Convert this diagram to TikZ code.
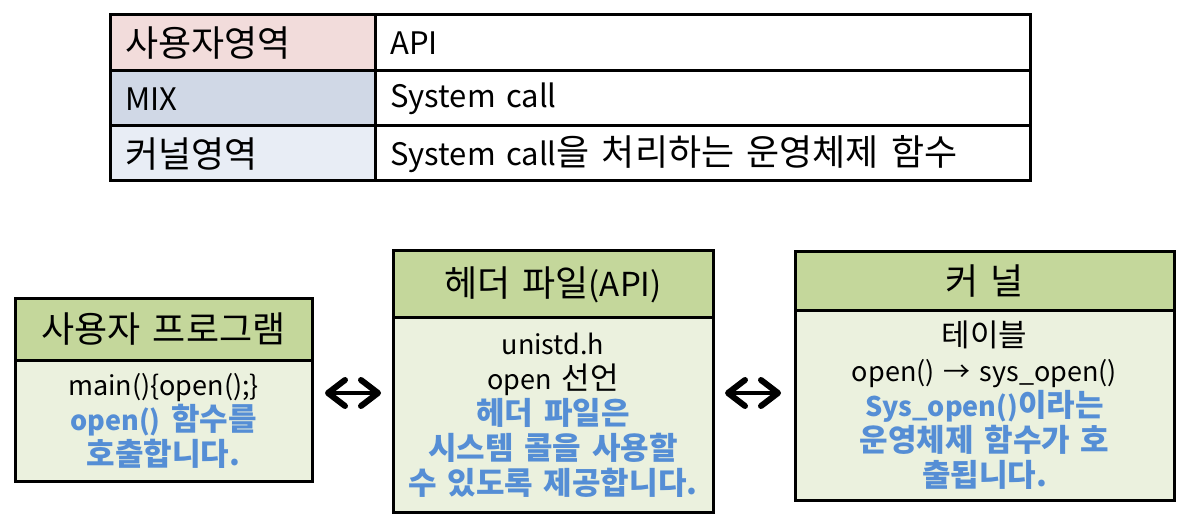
\documentclass[tikz,border=0pt]{standalone}
\usepackage{fontspec}
\setmainfont{Noto Sans CJK KR}[WordSpace=1.5]
\usetikzlibrary{arrows.meta}
\definecolor{hdrfill}{HTML}{C4D79B}
\definecolor{bodyfill}{HTML}{EBF1DE}
\definecolor{userfill}{HTML}{F2DCDB}
\definecolor{mixfill}{HTML}{D0D8E6}
\definecolor{kernfill}{HTML}{E8EDF5}
\definecolor{bluetxt}{HTML}{558ED5}
\newcommand\ltt[1]{{\fontsize{31}{34}\selectfont #1}}
\newcommand\lth[1]{{\fontsize{33}{38}\selectfont #1}}
\newcommand\ltb[1]{{\fontsize{27}{34.5}\selectfont #1}}
\newcommand\blu[1]{{\bfseries\color{bluetxt}#1}}
\tikzset{
  grid/.style={line width=3pt, line cap=rect},
  celltext/.style={anchor=west, inner sep=0pt, font=\fontsize{36}{38}\selectfont},
  hdrbox/.style={draw, line width=3pt, fill=hdrfill, inner sep=0pt, font=\fontsize{36}{38}\selectfont},
  bodybox/.style={draw, line width=3pt, fill=bodyfill, inner sep=0pt},
  bodytext/.style={align=center, inner sep=0pt, font=\fontsize{31}{35}\selectfont},
  dblarrow/.style={line width=4pt, {Straight Barb[length=17pt,width=26pt,line width=6pt,round]}-{Straight Barb[length=17pt,width=26pt,line width=6pt,round]}}
}
\begin{document}
\begin{tikzpicture}[x=1pt,y=-1pt]
\useasboundingbox (0,0) rectangle (1188,526);
% table
\fill[userfill] (110,15) rectangle (375,70.5);
\fill[mixfill] (110,70.5) rectangle (375,126);
\fill[kernfill] (110,126) rectangle (375,181);
\draw[grid] (110,15) rectangle (1030,181);
\draw[grid] (110,70.5) -- (1030,70.5);
\draw[grid] (110,126) -- (1030,126);
\draw[grid] (375,15) -- (375,181);
\node[celltext] (c11) at (125,43) {사용자영역};
\node[celltext] (c12) at (390,43) {\ltt{API}};
\node[celltext] (c21) at (125,99) {\ltt{MIX}};
\node[celltext] (c22) at (390,99) {\ltt{System call}};
\node[celltext] (c31) at (125,154) {커널영역};
\node[celltext] (c32) at (390,154) {\ltt{System call}을 처리하는 운영체제 함수};
% box 1
\node[hdrbox, minimum width=297pt, minimum height=61pt] (h1) at (163.5,329.5) {사용자 프로그램};
\node[bodybox, minimum width=297pt, minimum height=121pt] (b1) at (163.5,420.5) {};
\node[bodytext] (t1) at (b1.center) {\ltb{main()\{open();\}}\\ \blu{\ltb{open()} 함수를}\\ \blu{호출합니다.}};
% box 2
\node[hdrbox, minimum width=320pt, minimum height=67pt] (h2) at (553,284.5) {헤더 파일\lth{(API)}};
\node[bodybox, minimum width=320pt, minimum height=194pt] (b2) at (553,415) {};
\node[bodytext] (t2) at (b2.center) {\ltb{unistd.h}\\ \ltb{open} 선언\\ \blu{헤더 파일은}\\ \blu{시스템 콜을 사용할}\\ \blu{수 있도록 제공합니다.}};
% box 3
\node[hdrbox, minimum width=379pt, minimum height=59pt] (h3) at (984.5,281.5) {커 널};
\node[bodybox, minimum width=379pt, minimum height=189pt] (b3) at (984.5,405.5) {};
\node[bodytext] (t3) at (b3.center) {테이블\\ \ltb{open() → sys\_open()}\\ \blu{\ltb{Sys\_open()}이라는}\\ \blu{운영체제 함수가 호}\\ \blu{출됩니다.}};
% arrows
\coordinate (a1s) at (325,393);
\coordinate (a1e) at (381,393);
\coordinate (a2s) at (725,393);
\coordinate (a2e) at (781,393);
\draw[dblarrow] (a1s) -- (a1e);
\draw[dblarrow] (a2s) -- (a2e);
\end{tikzpicture}
\end{document}
